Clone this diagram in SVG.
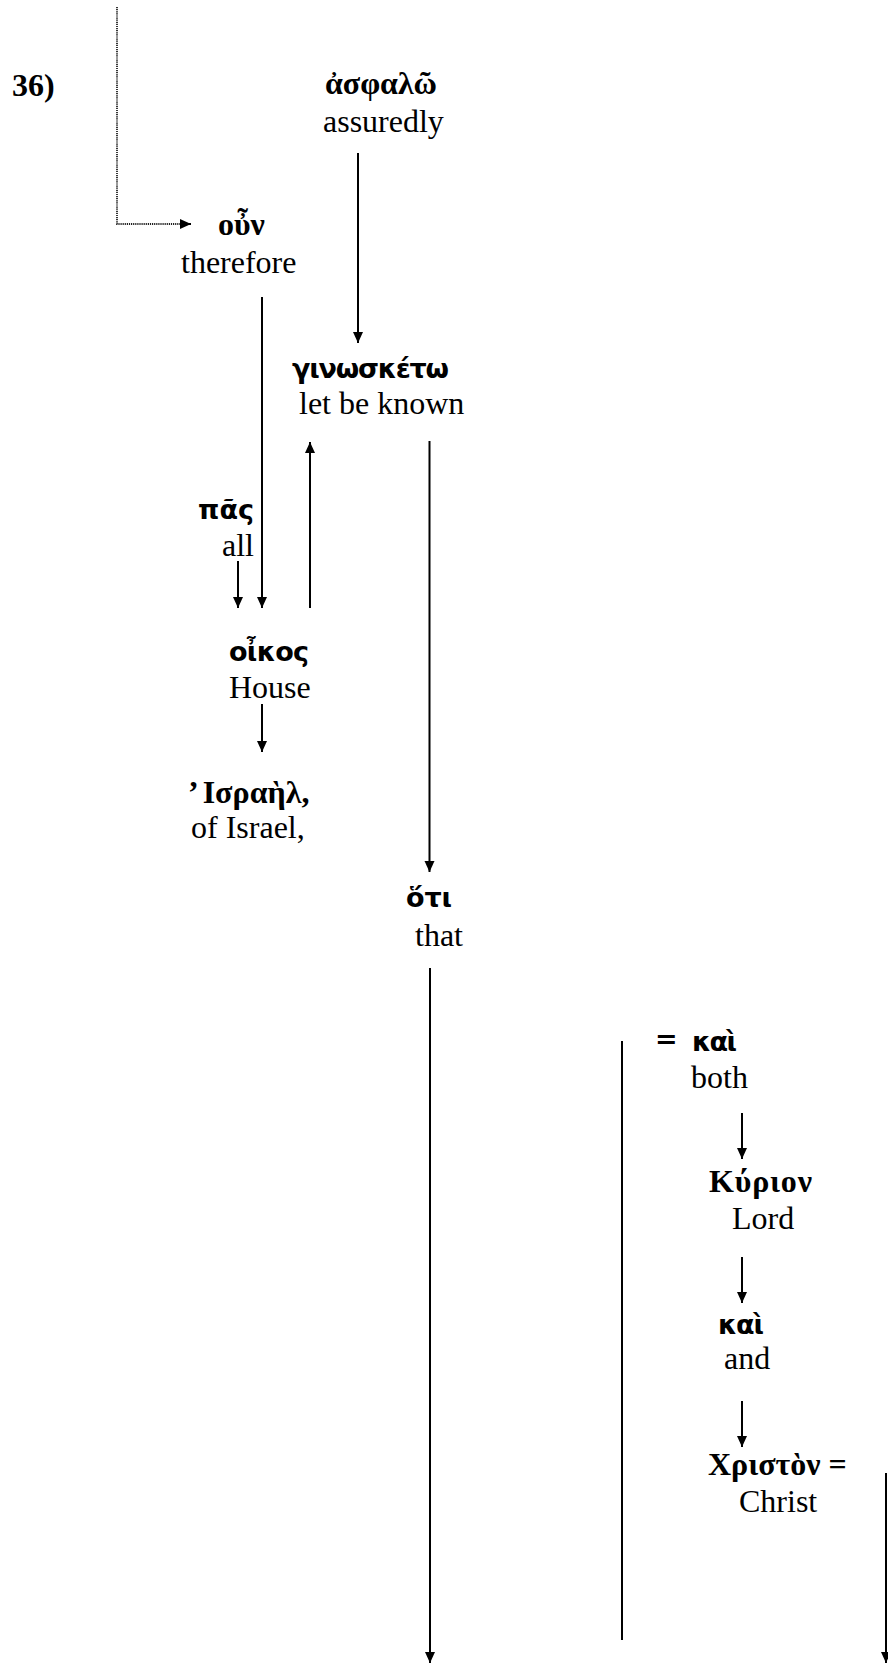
<svg xmlns="http://www.w3.org/2000/svg" width="888" height="1664" viewBox="0 0 888 1664">
  <style>
    .gs { font-family: "DejaVu Sans", "Noto Sans", sans-serif; font-weight: bold; font-size: 27px; fill: #000; }
    .gr { font-family: "Liberation Serif", "Noto Serif", serif; font-weight: bold; font-size: 32px; fill: #000; }
    .en { font-family: "Liberation Serif", serif; font-size: 32px; fill: #000; }
    .num { font-family: "Liberation Serif", serif; font-weight: bold; font-size: 32px; fill: #000; }
    .ln { fill: none; stroke: #000; stroke-width: 2; }
    .dot { fill: none; stroke: #222; stroke-width: 1.8; stroke-dasharray: 1.2 0.9; }
  </style>
  <defs>
    <marker id="ah" markerUnits="userSpaceOnUse" markerWidth="12" markerHeight="11" refX="11" refY="5" orient="auto" overflow="visible">
      <path d="M0,0 L11,5 L0,10 z" fill="#000"/>
    </marker>
  </defs>
  <rect width="888" height="1664" fill="#fff"/>

  <!-- verse number -->
  <g id="verse">
    <text class="num" x="12" y="96">36)</text>
  </g>

  <!-- word nodes: Greek word with English gloss below -->
  <g id="n-asphalo">
    <text class="gr" x="325" y="94" textLength="112">ἀσφαλῶ</text>
    <text class="en" x="323" y="132">assuredly</text>
  </g>
  <g id="n-oun">
    <text class="gr" x="218" y="235">οὖν</text>
    <text class="en" x="181" y="273">therefore</text>
  </g>
  <g id="n-ginosketo">
    <text class="gs" x="292" y="378" textLength="157">γινωσκέτω</text>
    <text class="en" x="299" y="414">let be known</text>
  </g>
  <g id="n-pas">
    <text class="gs" x="198" y="519" textLength="56">πᾶς</text>
    <text class="en" x="222" y="556">all</text>
  </g>
  <g id="n-oikos">
    <text class="gs" x="229" y="661" textLength="80">οἶκος</text>
    <text class="en" x="229" y="698">House</text>
  </g>
  <g id="n-israel">
    <text class="gr" x="188" y="803">’<tspan dx="4">Ισραὴλ,</tspan></text>
    <text class="en" x="191" y="838">of Israel,</text>
  </g>
  <g id="n-hoti">
    <text class="gs" x="406" y="907" textLength="46">ὅτι</text>
    <text class="en" x="415" y="946">that</text>
  </g>
  <g id="n-kai1">
    <text class="gs" x="655" y="1048">=</text>
    <text class="gs" x="692" y="1051" textLength="45">καὶ</text>
    <text class="en" x="691" y="1088">both</text>
  </g>
  <g id="n-kyrion">
    <text class="gr" x="709" y="1192" textLength="103">Κύριον</text>
    <text class="en" x="732" y="1229">Lord</text>
  </g>
  <g id="n-kai2">
    <text class="gs" x="718" y="1334" textLength="46">καὶ</text>
    <text class="en" x="724" y="1369">and</text>
  </g>
  <g id="n-christon">
    <text class="gr" x="708" y="1475">Χριστὸν =</text>
    <text class="en" x="739" y="1512">Christ</text>
  </g>

  <!-- connectors -->
  <g id="connectors">
    <path class="dot" d="M117,7 V224 H180"/>
    <path d="M180,224 H191" class="ln" stroke-width="0" marker-end="url(#ah)"/>
    <path class="ln" d="M358,153 V343" marker-end="url(#ah)"/>
    <path class="ln" d="M262,297 V608" marker-end="url(#ah)"/>
    <path class="ln" d="M238,561 V608" marker-end="url(#ah)"/>
    <path class="ln" d="M310,608 V442" marker-end="url(#ah)"/>
    <path class="ln" d="M429.5,441 V872" marker-end="url(#ah)"/>
    <path class="ln" d="M262,704 V752" marker-end="url(#ah)"/>
    <path class="ln" d="M430,968 V1663" marker-end="url(#ah)"/>
    <path class="ln" d="M622,1041 V1640"/>
    <path class="ln" d="M742,1113 V1159" marker-end="url(#ah)"/>
    <path class="ln" d="M742,1257 V1303" marker-end="url(#ah)"/>
    <path class="ln" d="M742,1401 V1447" marker-end="url(#ah)"/>
    <path class="ln" d="M886,1473 V1663" marker-end="url(#ah)"/>
  </g>
</svg>
